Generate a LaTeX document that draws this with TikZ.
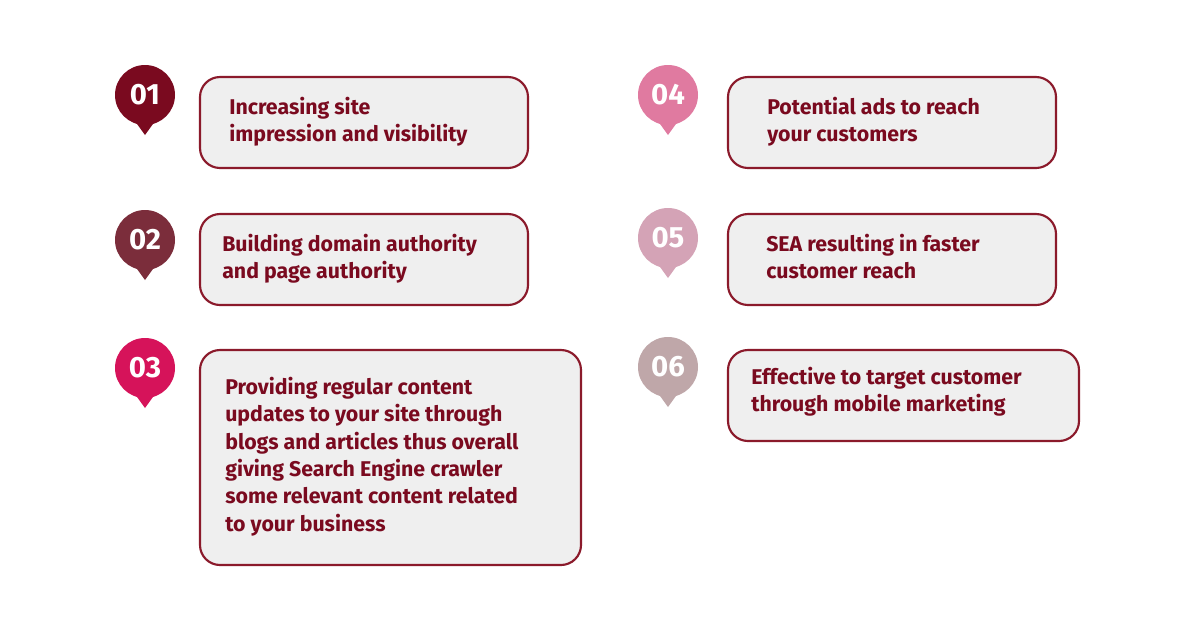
\documentclass[tikz,border=0pt]{standalone}
\usepackage{fontspec}
\setmainfont{Fira Sans}
\definecolor{txt}{HTML}{7A0A1F}
\definecolor{bord}{HTML}{8B1A2B}
\definecolor{boxf}{HTML}{EFEFEF}
\definecolor{cA}{HTML}{7A0A1F}
\definecolor{cB}{HTML}{7B2D3B}
\definecolor{cC}{HTML}{D6135A}
\definecolor{cD}{HTML}{E07AA0}
\definecolor{cE}{HTML}{D4A3B6}
\definecolor{cF}{HTML}{BFA7A9}
\tikzset{
 card/.style={draw=bord,line width=1.6pt,fill=boxf,rounded corners=15pt},
 lbl/.style={anchor=north west,text=txt,font=\fontsize{16}{20.5}\selectfont\bfseries,align=left,inner sep=0pt},
 num/.style={text=white,font=\fontsize{22}{24}\selectfont\bfseries}
}
\newcommand{\pin}[4]{%
 \fill[#3] (#1,#2) circle (30);
 \fill[#3] (#1-13,#2+22) -- (#1,#2+40) -- (#1+13,#2+22) -- cycle;
 \node[num] (n#4) at (#1,#2) {#4};}
\begin{document}
\begin{tikzpicture}[x=0.75pt,y=-0.75pt]
\useasboundingbox (0,0) rectangle (1200,636);
\fill[white] (0,0) rectangle (1200,636);
\draw[card] (200,77) rectangle (528,168);
\draw[card] (200,214) rectangle (528,305);
\draw[card] (200,350) rectangle (581,565);
\draw[card] (728,77) rectangle (1056,168);
\draw[card] (728,214) rectangle (1056,305);
\draw[card] (728,350) rectangle (1079,441);
\pin{145}{95}{cA}{01}
\pin{145}{240}{cB}{02}
\pin{145}{368}{cC}{03}
\pin{668}{95}{cD}{04}
\pin{668}{238}{cE}{05}
\pin{668}{367}{cF}{06}
\node[lbl] (t1) at (229,97) {Increasing site\\impression and visibility};
\node[lbl] (t2) at (222,234) {Building domain authority\\and page authority};
\node[lbl] (t3) at (225,377) {Providing regular content\\updates to your site through\\blogs and articles thus overall\\giving Search Engine crawler\\some relevant content related\\to your business};
\node[lbl] (t4) at (767,97) {Potential ads to reach\\your customers};
\node[lbl] (t5) at (766,234) {SEA resulting in faster\\customer reach};
\node[lbl] (t6) at (751,367) {Effective to target customer\\through mobile marketing};
\end{tikzpicture}
\end{document}
